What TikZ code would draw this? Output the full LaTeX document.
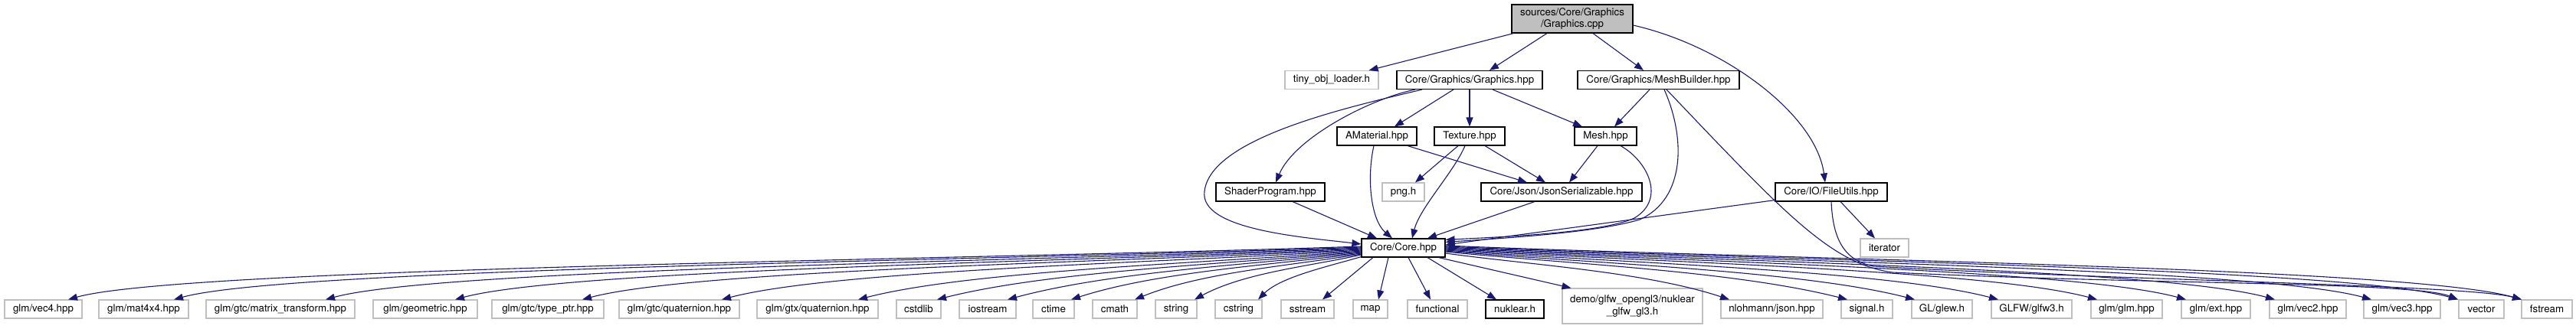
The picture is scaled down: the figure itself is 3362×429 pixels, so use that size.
\documentclass[tikz,border=0pt]{standalone}
\usepackage{fontspec}
\setmainfont{TeX Gyre Heros}
\usetikzlibrary{calc,arrows.meta}
\definecolor{edgeblue}{HTML}{191970}
\definecolor{greyext}{HTML}{BFBFBF}
\tikzset{
  box/.style={draw=black, line width=1.1pt, fill=white, inner sep=0pt, minimum height=24pt,
    font=\fontsize{13.3}{15.5}\selectfont, align=center},
  ext/.style={box, draw=greyext},
  e/.style={draw=edgeblue, line width=1.1pt, -{Triangle[length=12pt,width=9pt]}}
}
\begin{document}
\begin{tikzpicture}[x=1pt,y=-1pt]
\useasboundingbox (0,0) rectangle (3362,429);
% nodes
\node[box, fill=greyext, minimum width=158pt, minimum height=37pt] (cpp) at (2052,24.5) {sources/Core/Graphics\\/Graphics.cpp};
\node[ext, minimum width=122pt] (tiny) at (1738,104.5) {tiny\_obj\_loader.h};
\node[box, minimum width=190pt] (ghpp) at (1918,104.5) {Core/Graphics/Graphics.hpp};
\node[box, minimum width=211pt] (mb) at (2164.5,104.5) {Core/Graphics/MeshBuilder.hpp};
\node[box, minimum width=104pt] (amat) at (1797,178) {AMaterial.hpp};
\node[box, minimum width=92pt] (tex) at (1918,178) {Texture.hpp};
\node[box, minimum width=81pt] (mesh) at (2095.5,178) {Mesh.hpp};
\node[box, minimum width=142pt] (shader) at (1658,251) {ShaderProgram.hpp};
\node[ext, minimum width=55pt] (png) at (1831.5,251) {png.h};
\node[box, minimum width=210pt] (json) at (2038,251) {Core/Json/JsonSerializable.hpp};
\node[box, minimum width=146pt] (fu) at (2390,251) {Core/IO/FileUtils.hpp};
\node[box, minimum width=109pt] (core) at (1831.5,324) {Core/Core.hpp};
\node[ext, minimum width=63pt] (iter) at (2459.5,324) {iterator};
% bottom row
\node[ext, minimum width=101pt] (vec4) at (56.5,404) {glm/vec4.hpp};
\node[ext, minimum width=117pt] (mat4) at (187.5,404) {glm/mat4x4.hpp};
\node[ext, minimum width=194pt] (mt) at (366,404) {glm/gtc/matrix\_transform.hpp};
\node[ext, minimum width=136pt] (geo) at (555,404) {glm/geometric.hpp};
\node[ext, minimum width=146pt] (tptr) at (715,404) {glm/gtc/type\_ptr.hpp};
\node[ext, minimum width=157pt] (gq) at (886.5,404) {glm/gtc/quaternion.hpp};
\node[ext, minimum width=158pt] (xq) at (1067,404) {glm/gtx/quaternion.hpp};
\node[ext, minimum width=58pt] (cstdlib) at (1199,404) {cstdlib};
\node[ext, minimum width=74pt] (iostream) at (1289,404) {iostream};
\node[ext, minimum width=54pt] (ctime) at (1375,404) {ctime};
\node[ext, minimum width=58pt] (cmath) at (1455,404) {cmath};
\node[ext, minimum width=54pt] (string) at (1535,404) {string};
\node[ext, minimum width=61pt] (cstring) at (1616.5,404) {cstring};
\node[ext, minimum width=69pt] (sstream) at (1706.5,404) {sstream};
\node[ext, minimum width=45pt] (map) at (1788.5,404) {map};
\node[ext, minimum width=78pt] (functional) at (1876,404) {functional};
\node[box, minimum width=76pt] (nuklear) at (1977,404) {nuklear.h};
\node[ext, minimum width=183pt, minimum height=46pt] (demo) at (2130.5,400) {demo/glfw\_opengl3/nuklear\\\_glfw\_gl3.h};
\node[ext, minimum width=133pt] (nlohmann) at (2312.5,404) {nlohmann/json.hpp};
\node[ext, minimum width=67pt] (signal) at (2436.5,404) {signal.h};
\node[ext, minimum width=79pt] (glew) at (2534.5,404) {GL/glew.h};
\node[ext, minimum width=105pt] (glfw) at (2651.5,404) {GLFW/glfw3.h};
\node[ext, minimum width=93pt] (glm) at (2775.5,404) {glm/glm.hpp};
\node[ext, minimum width=90pt] (ext) at (2892,404) {glm/ext.hpp};
\node[ext, minimum width=100pt] (vec2) at (3012,404) {glm/vec2.hpp};
\node[ext, minimum width=100pt] (vec3) at (3135,404) {glm/vec3.hpp};
\node[ext, minimum width=59pt] (vector) at (3238.5,404) {vector};
\node[ext, minimum width=66pt] (fstream) at (3324,404) {fstream};
% upper edges
\draw[e] ($(cpp.south west)+(3,0)$) -- ($(tiny.north east)+(-13,0)$);
\draw[e] ($(cpp.south)+(-33,0)$) -- ($(ghpp.north)+(26,0)$);
\draw[e] ($(cpp.south)+(27,0)$) -- ($(mb.north)+(-19.5,0)$);
\draw[e] ($(cpp.east)+(0,8.5)$) .. controls +(119,27) and +(-12,-89) .. ($(fu.north)+(-8,0)$);
\draw[e] ($(ghpp.south)+(-71,0)$) .. controls +(-57,11.5) and +(25,-59) .. ($(shader.north)+(7,0)$);
\draw[e] ($(ghpp.south)+(-62,0)$) .. controls (1760,140) and (1580,180) .. (1572,250) .. controls (1565,300) and (1700,310) .. ($(core.west)+(0,-5)$);
\draw[e] ($(ghpp.south)+(-21,0)$) -- ($(amat.north)+(23,0)$);
\draw[e] (ghpp.south) -- (tex.north);
\draw[e] ($(ghpp.south)+(30,0)$) -- ($(mesh.north)+(-30.5,0)$);
\draw[e] ($(mb.south)+(-11.5,0)$) -- ($(mesh.north)+(11.5,0)$);
\draw[e] ($(mb.south)+(7.5,0)$) .. controls (2200,180) and (2200,260) .. (2140,287) .. controls (2080,305) and (1950,312) .. ($(core.north east)+(0,5)$);
\draw[e] ($(mesh.south)+(19.5,0)$) .. controls (2150,210) and (2175,260) .. (2133,285) .. controls (2090,305) and (1950,310) .. ($(core.north east)+(0,2)$);
\draw[e] ($(mb.south)+(10.5,0)$) .. controls (2330,280) and (2390,345) .. (2470,356) .. controls (2800,372) and (3150,368) .. ($(vector.north)+(-30.5,0)$);
\draw[e] ($(fu.south west)+(0,-2)$) -- ($(core.east)+(0,-4)$);
\draw[e] ($(fu.south)+(12,0)$) -- ($(iter.north)+(-12.5,0)$);
\draw[e] (fu.south) .. controls (2392,310) and (2405,340) .. (2445,348) .. controls (2750,366) and (3220,372) .. ($(fstream.north)+(-33,0)$);
\draw[e] ($(amat.south)+(40,0)$) -- ($(json.north)+(-45,0)$);
\draw[e] ($(amat.south)+(-4,0)$) .. controls +(-10,45) and +(-27,-23) .. ($(core.north)+(-14.5,0)$);
\draw[e] ($(tex.south)+(-15,0)$) -- ($(png.north)+(15.5,0)$);
\draw[e] ($(tex.south)+(-6,0)$) .. controls +(-15,35) and +(10,-40) .. ($(core.north)+(11.5,0)$);
\draw[e] ($(tex.south)+(20,0)$) -- ($(json.north)+(-21,0)$);
\draw[e] ($(mesh.south)+(-10.5,0)$) -- ($(json.north)+(10,0)$);
\draw[e] ($(shader.south)+(29,0)$) -- ($(core.north)+(-34.5,0)$);
\draw[e] ($(json.south)+(-35,0)$) -- ($(core.north)+(31.5,0)$);
% left fan
\draw[e] ($(core.west)+(0,-2)$) .. controls +(-506,17.5) and +(150,-42) .. ($(vec4.north)+(32.5,0)$);
\draw[e] ($(core.west)+(0,-1)$) .. controls +(-465,17.3) and +(150,-41.4) .. ($(mat4.north)+(39.5,0)$);
\draw[e] ($(core.west)+(0,0)$) .. controls +(-405.6,17) and +(150,-40.8) .. ($(mt.north)+(59,0)$);
\draw[e] ($(core.west)+(0,1)$) .. controls +(-354.9,16.8) and +(150,-40.2) .. ($(geo.north)+(39,0)$);
\draw[e] ($(core.west)+(0,2)$) .. controls +(-305.1,16.5) and +(150,-39.6) .. ($(tptr.north)+(45,0)$);
\draw[e] ($(core.west)+(0,3)$) .. controls +(-250.5,16.3) and +(150,-39) .. ($(gq.north)+(55.5,0)$);
\draw[e] ($(core.west)+(0,4)$) .. controls +(-197.1,16) and +(150,-38.4) .. ($(xq.north)+(53,0)$);
\draw[e] ($(core.west)+(0,5)$) .. controls +(-166.2,15.8) and +(150,-37.8) .. ($(cstdlib.north)+(24,0)$);
\draw[e] ($(core.west)+(0,6)$) .. controls +(-138.6,15.5) and +(138.6,-37.2) .. ($(iostream.north)+(26,0)$);
\draw[e] ($(core.west)+(0,7)$) .. controls +(-113.7,15.3) and +(113.7,-36.6) .. ($(ctime.north)+(23,0)$);
\draw[e] ($(core.west)+(0,8)$) .. controls +(-88.8,15) and +(88.8,-36) .. ($(cmath.north)+(26,0)$);
\draw[e] ($(core.west)+(0,9)$) .. controls +(-65.4,14.8) and +(65.4,-35.4) .. ($(string.north)+(24,0)$);
\draw[e] ($(core.south west)+(0,-1)$) .. controls +(-40,12) and +(30,-30) .. ($(cstring.north)+(25.5,0)$);
\draw[e] ($(core.south)+(-39.5,0)$) -- ($(sstream.north)+(19.5,0)$);
\draw[e] ($(core.south)+(-19.5,0)$) -- ($(map.north)+(10.5,0)$);
\draw[e] ($(core.south)+(6.5,0)$) -- ($(functional.north)+(-9,0)$);
\draw[e] ($(core.south)+(31.5,0)$) -- ($(nuklear.north)+(-24,0)$);
\draw[e] ($(core.south east)+(-9,0)$) -- ($(demo.north)+(-80,0)$);
% right fan
\draw[e] ($(core.east)+(0,7)$) .. controls +(111.3,15.3) and +(-111.3,-36.6) .. ($(nlohmann.north)+(-55.5,0)$);
\draw[e] ($(core.east)+(0,5)$) .. controls +(157.5,15.8) and +(-150,-37.8) .. ($(signal.north)+(-25.5,0)$);
\draw[e] ($(core.east)+(0,4)$) .. controls +(183.9,16) and +(-150,-38.4) .. ($(glew.north)+(-35.5,0)$);
\draw[e] ($(core.east)+(0,3)$) .. controls +(216.6,16.3) and +(-150,-39) .. ($(glfw.north)+(-43.5,0)$);
\draw[e] ($(core.east)+(0,2)$) .. controls +(255.3,16.5) and +(-150,-39.6) .. ($(glm.north)+(-38.5,0)$);
\draw[e] ($(core.east)+(0,1)$) .. controls +(290.1,16.8) and +(-150,-40.2) .. ($(ext.north)+(-39,0)$);
\draw[e] ($(core.east)+(0,0)$) .. controls +(324.9,17) and +(-150,-40.8) .. ($(vec2.north)+(-43,0)$);
\draw[e] ($(core.east)+(0,-1)$) .. controls +(362.7,17.3) and +(-150,-41.4) .. ($(vec3.north)+(-40,0)$);
\draw[e] ($(core.east)+(0,-2)$) .. controls +(396.6,17.5) and +(-150,-42) .. ($(vector.north)+(-30.5,0)$);
\draw[e] ($(core.east)+(0,-3)$) .. controls +(421.5,17.8) and +(-150,-42.6) .. ($(fstream.north)+(-33,0)$);
\end{tikzpicture}
\end{document}
